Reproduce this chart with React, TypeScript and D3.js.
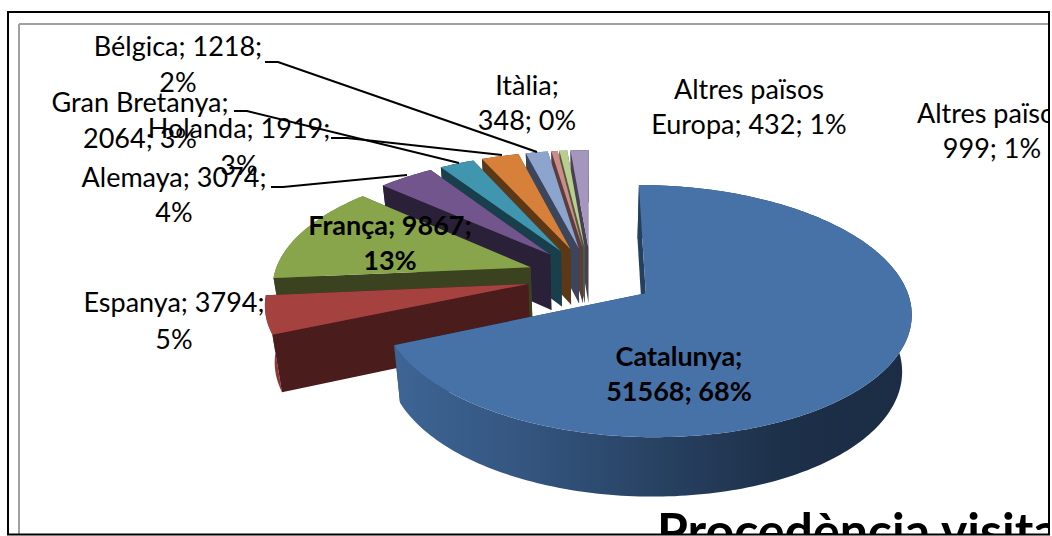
import React from "react";
import * as d3 from "d3";

const categories = ["Catalunya","Espanya","França","Alemaya","Holanda","Gran Bretanya","Bélgica","Itàlia","Altres països Europa","Altres països"];
const visitors = [51568,3794,9867,3074,1919,2064,1218,348,432,999];

const topColors = ["#4672a8","#a5423f","#89a54c","#71558c","#4196af","#d7803a","#8da5cd","#cb8c8a","#b9cd8c","#a596be"];
const wallColors = ["#24405f","#4a1c1c","#3a4220","#2a2038","#1a3f4c","#5c3816","#3b455c","#5a3d3c","#4f5a38","#454058"];
const outerColors = ["url(#blueWall)","#8c3735","#5f7330","#2a2038","#1a3f4c","#5c3816","#3b455c","#5a3d3c","#4f5a38","#454058"];

// label placement: [text line, centre x, baseline y]
const labels: { lines: string[]; x: number; y: number[]; bold?: boolean }[] = [
  { lines: ["Catalunya;", "51568; 68%"], x: 679, y: [366, 401], bold: true },
  { lines: ["Espanya; 3794;", "5%"], x: 174, y: [312, 349] },
  { lines: ["França; 9867;", "13%"], x: 390, y: [235, 270], bold: true },
  { lines: ["Alemaya; 3074;", "4%"], x: 174, y: [187, 222] },
  { lines: ["Holanda; 1919;", "3%"], x: 239, y: [138, 175] },
  { lines: ["Gran Bretanya;", "2064; 3%"], x: 140, y: [112, 148] },
  { lines: ["Bélgica; 1218;", "2%"], x: 178, y: [56, 92] },
  { lines: ["Itàlia;", "348; 0%"], x: 527, y: [95, 130] },
  { lines: ["Altres països", "Europa; 432; 1%"], x: 749, y: [99, 134] },
  { lines: ["Altres països", "999; 1%"], x: 992, y: [123, 158] },
];
const leaders: [number, number][][] = [
  [[265, 62], [278, 62], [537, 152]],
  [[234, 111], [247, 111], [459, 163]],
  [[331, 138], [347, 138], [502, 155]],
  [[271, 187], [283, 187], [407, 175]],
];

const W = 1052, H = 536;
const cx = 591, cy = 276.5, R = 257, A = 118.8, persp = 0.14, explode = 0.25;
const shrink = 0.03;

type P = [number, number];
const topPt = (X: number, Y: number): P => {
  const s = 1 / (1 - persp * Y);
  return [cx + R * X * s, cy + A * Y * s];
};
const botPt = (X: number, Y: number): P => {
  const [x, y] = topPt(X, Y);
  return [cx + (x - cx) * (1 - shrink), y + 56 + 3 * Y];
};
const line = d3.line<P>();

export default function App() {
  const arcs = d3.pie<number>().sort(null).startAngle(0).endAngle(2 * Math.PI)(visitors);
  const slices = arcs.map((a, i) => {
    const mid = (a.startAngle + a.endAngle) / 2;
    const ox = Math.sin(mid) * explode, oy = -Math.cos(mid) * explode;
    const n = Math.max(2, Math.ceil((a.endAngle - a.startAngle) / 0.02));
    const rim = d3.range(n + 1).map((k) => {
      const t = a.startAngle + ((a.endAngle - a.startAngle) * k) / n;
      return [ox + Math.sin(t), oy - Math.cos(t)] as P;
    });
    const apex: P = [ox, oy];
    const tRim = rim.map((p) => topPt(p[0], p[1]));
    const bRim = rim.map((p) => botPt(p[0], p[1]));
    const tA = topPt(apex[0], apex[1]);
    const bA = botPt(apex[0], apex[1]);
    return {
      i,
      top: line([tA, ...tRim])! + "Z",
      outer: line([...tRim, ...[...bRim].reverse()])! + "Z",
      startWall: line([tA, tRim[0], bRim[0], bA])! + "Z",
      endWall: line([tA, tRim[n], bRim[n], bA])! + "Z",
    };
  });
  // painter's order: far slices first, the large front slice last
  const order = [9, 8, 7, 6, 5, 4, 3, 2, 1, 0];
  const font = "Lato, Carlito, sans-serif";
  return (
    <svg width={W} height={H} style={{ position: "fixed", left: 0, top: 0, display: "block", background: "#fff" }}>
      <defs>
        <linearGradient id="blueWall" gradientUnits="userSpaceOnUse" x1={400} x2={910} y1={0} y2={0}>
          <stop offset="0" stopColor="#3d6494" />
          <stop offset="0.25" stopColor="#34557f" />
          <stop offset="0.5" stopColor="#284263" />
          <stop offset="0.75" stopColor="#1d3049" />
          <stop offset="1" stopColor="#1b2c44" />
        </linearGradient>
        <clipPath id="frame"><rect x={8} y={12} width={1041} height={522} /></clipPath>
      </defs>
      <g clipPath="url(#frame)">
        <line x1={19} y1={24} x2={1049} y2={24} stroke="#a0a0a0" strokeWidth={2} />
        <line x1={19} y1={24} x2={19} y2={536} stroke="#a0a0a0" strokeWidth={2} />
        {order.map((i) => {
          const s = slices[i];
          return (
            <g key={categories[i]}>
              <path d={s.endWall} fill={wallColors[i]} />
              <path d={s.outer} fill={outerColors[i]} />
              <path d={s.startWall} fill={wallColors[i]} />
              <path d={s.top} fill={topColors[i]} />
            </g>
          );
        })}
        {leaders.map((l, i) => (
          <path key={i} d={line(l)!} fill="none" stroke="#000" strokeWidth={2} />
        ))}
        {labels.map((l, i) =>
          l.lines.map((t, j) => (
            <text key={i + "-" + j} x={l.x} y={l.y[j]} textAnchor="middle" fontFamily={font} fontSize={27} fontWeight={l.bold ? 700 : 400} fill="#000">
              {t}
            </text>
          ))
        )}
        <text x={657} y={549} fontFamily={font} fontSize={50} fontWeight={700} fill="#000">Procedència visitants</text>
      </g>
      <rect x={8} y={12} width={1041} height={522.5} fill="none" stroke="#000" strokeWidth={2} />
    </svg>
  );
}
